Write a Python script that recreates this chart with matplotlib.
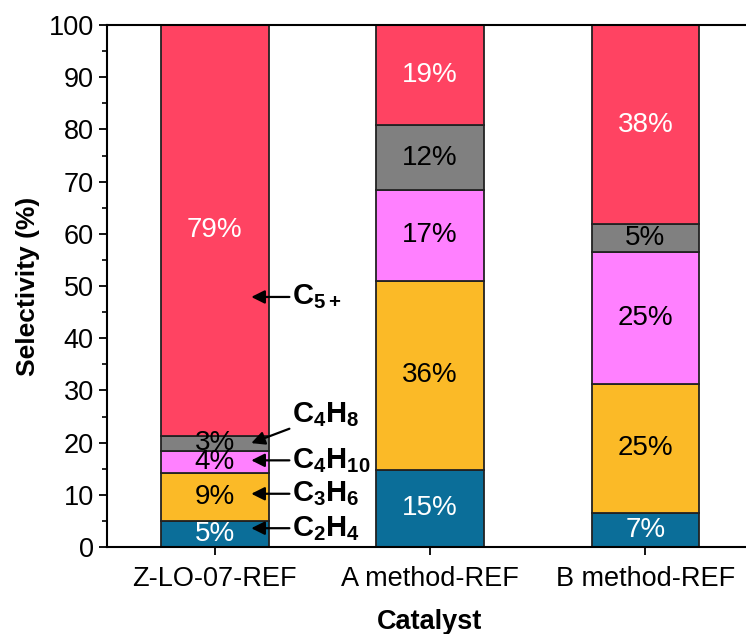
import numpy as np
import matplotlib
matplotlib.use("Agg")
import matplotlib.pyplot as plt

# data
catalysts = ["Z-LO-07-REF", "A method-REF", "B method-REF"]
products = ["C2H4", "C3H6", "C4H10", "C4H8", "C5+"]
c2h4 = [5.0, 14.8, 6.6]
c3h6 = [9.2, 36.2, 24.7]
c4h10 = [4.2, 17.4, 25.3]
c4h8 = [2.9, 12.4, 5.2]
c5plus = [78.7, 19.2, 38.2]

colors = ["#0B6E99", "#FBBA27", "#FF80FF", "#808080", "#FF4362"]
text_colors = ["white", "black", "black", "black", "white"]

# labels next to the first bar
ann_labels = [r"$\mathbf{C_2H_4}$", r"$\mathbf{C_3H_6}$", r"$\mathbf{C_4H_{10}}$",
              r"$\mathbf{C_4H_8}$", r"$\mathbf{C_{5+}}$"]
ann_tip_y = [3.6, 10.2, 16.6, 19.9, 47.9]
ann_text_y = [3.6, 10.2, 16.6, 25.3, 47.9]

plt.rcParams["font.family"] = ["Liberation Sans", "DejaVu Sans"]
plt.rcParams["mathtext.fontset"] = "custom"
plt.rcParams["mathtext.rm"] = "Liberation Sans"
plt.rcParams["mathtext.bf"] = "Liberation Sans:bold"

fig = plt.figure(figsize=(7.46, 6.34), dpi=100)
ax = fig.add_axes([107 / 746, 87 / 634, 646 / 746, 522 / 634])

x = np.arange(len(catalysts))
series = [c2h4, c3h6, c4h10, c4h8, c5plus]
bottom = np.zeros(len(catalysts))
for vals, col, tcol in zip(series, colors, text_colors):
    vals = np.array(vals)
    ax.bar(x, vals, 0.5, bottom=bottom, color=col, edgecolor="#222222", linewidth=1.3, zorder=2)
    for xi, b, v in zip(x, bottom, vals):
        ax.text(xi, b + v / 2, f"{v:.0f}%", ha="center", va="center",
                fontsize=20, color=tcol, zorder=3)
    bottom += vals

for lab, ty, tt in zip(ann_labels, ann_tip_y, ann_text_y):
    ax.annotate(lab, xy=(0.17, ty), xytext=(0.36, tt), ha="left", va="center",
                fontsize=21, zorder=4,
                arrowprops=dict(arrowstyle="-|>", color="black", lw=1.6,
                                mutation_scale=20, shrinkA=0, shrinkB=0))

ax.set_xlim(-0.5, 2.5)
ax.set_ylim(0, 100)
ax.set_xticks(x)
ax.set_xticklabels(catalysts)
ax.set_yticks(np.arange(0, 101, 10))
ax.set_yticks(np.arange(5, 100, 10), minor=True)
ax.tick_params(axis="both", which="major", labelsize=19.5, length=6, width=1.3, direction="out")
ax.tick_params(axis="y", which="minor", length=3.5, width=1.2)
ax.tick_params(axis="x", pad=8)
for s in ax.spines.values():
    s.set_linewidth(1.5)
ax.spines["right"].set_visible(False)
ax.set_xlabel("Catalyst", fontsize=19.5, fontweight="bold", labelpad=12)
ax.set_ylabel("Selectivity (%)", fontsize=19, fontweight="bold", labelpad=6)

fig.savefig("out.png", dpi=100)
